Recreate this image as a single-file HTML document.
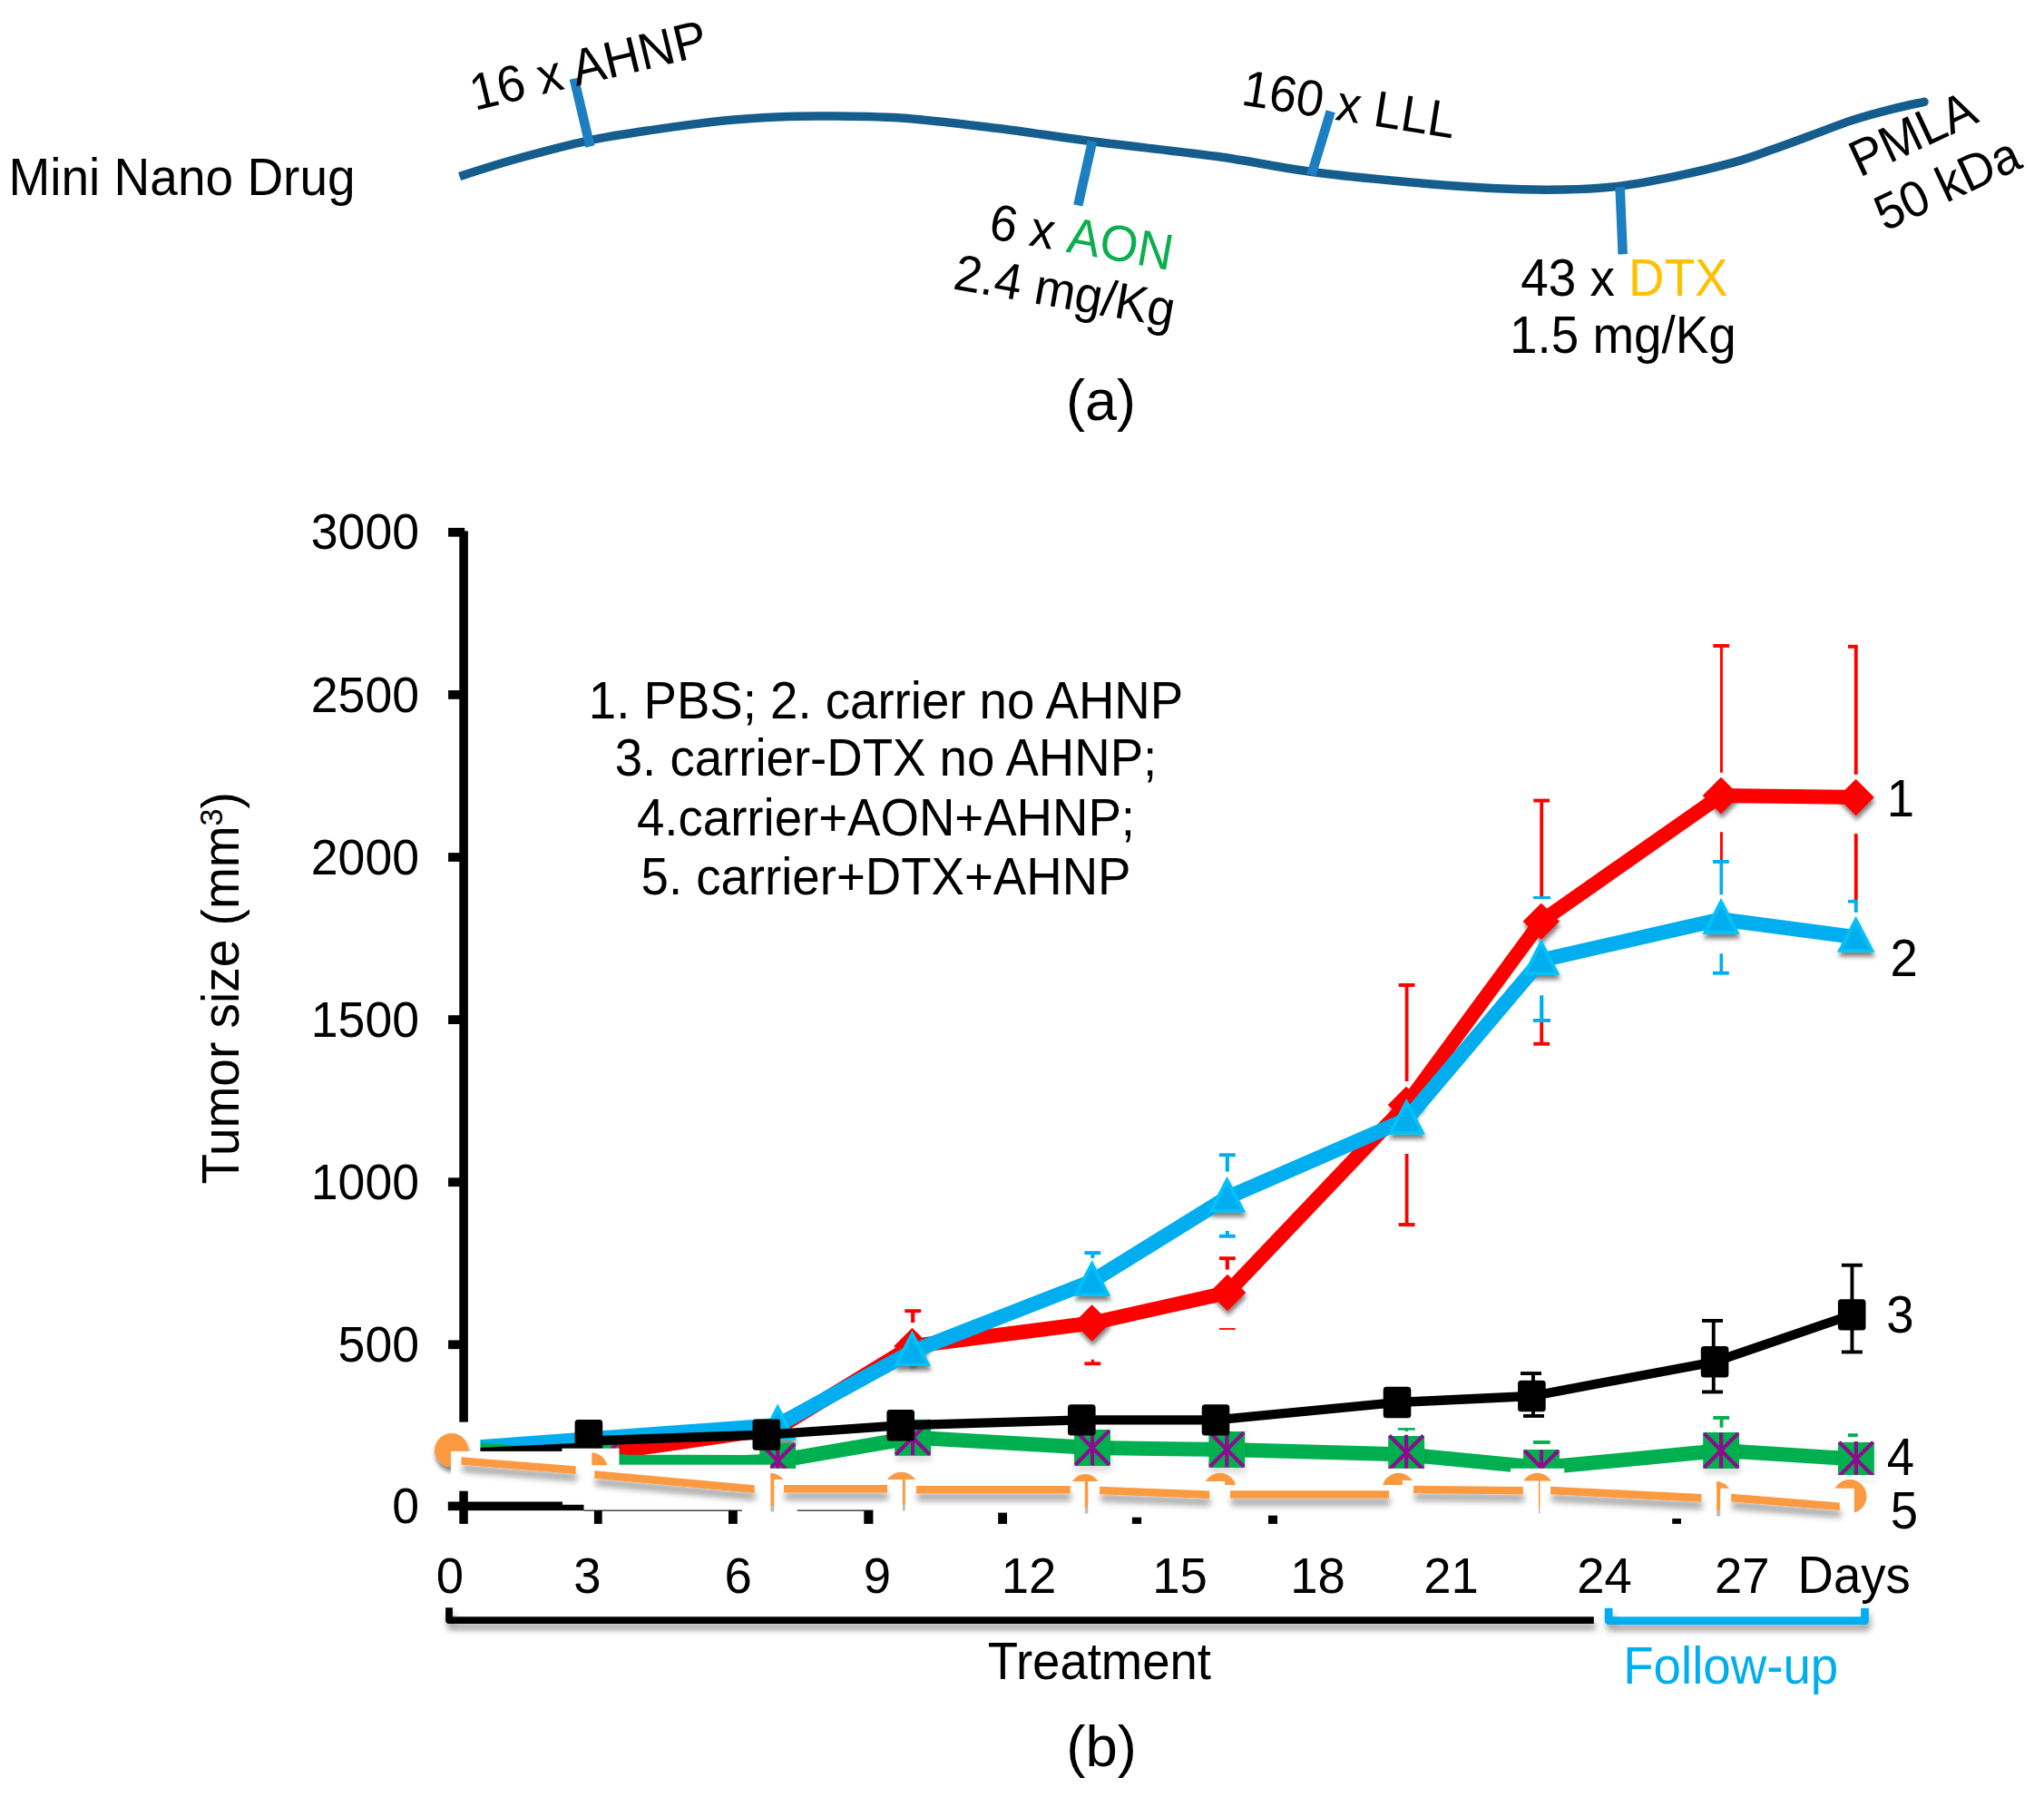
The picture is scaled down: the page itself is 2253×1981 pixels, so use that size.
<!DOCTYPE html>
<html lang="en"><head><meta charset="utf-8"><title>Mini Nano Drug tumor size</title>
<style>html,body{margin:0;padding:0;background:#fff}svg{display:block}text{font-family:"Liberation Sans",sans-serif;fill:#000}</style></head><body>
<svg width="2253" height="1981" viewBox="0 0 2253 1981">
<defs>
<filter id="sh" x="-5%" y="-5%" width="110%" height="115%"><feGaussianBlur in="SourceAlpha" stdDeviation="2.5"/><feOffset dx="0.5" dy="5"/><feComponentTransfer><feFuncA type="linear" slope="0.5"/></feComponentTransfer><feMerge><feMergeNode/><feMergeNode in="SourceGraphic"/></feMerge></filter>
<filter id="shg" x="-5%" y="-5%" width="110%" height="115%"><feGaussianBlur in="SourceAlpha" stdDeviation="3"/><feOffset dx="0.5" dy="6"/><feComponentTransfer><feFuncA type="linear" slope="0.13"/></feComponentTransfer><feMerge><feMergeNode/><feMergeNode in="SourceGraphic"/></feMerge></filter>
<filter id="shc" x="-50%" y="-50%" width="200%" height="200%"><feGaussianBlur in="SourceAlpha" stdDeviation="2.5"/><feOffset dx="0.5" dy="5"/><feComponentTransfer><feFuncA type="linear" slope="0.5"/></feComponentTransfer><feMerge><feMergeNode/><feMergeNode in="SourceGraphic"/></feMerge></filter>
<filter id="sho" x="-5%" y="-50%" width="110%" height="300%"><feGaussianBlur in="SourceAlpha" stdDeviation="3.5"/><feOffset dx="1" dy="8"/><feComponentTransfer><feFuncA type="linear" slope="0.36"/></feComponentTransfer><feMerge><feMergeNode/><feMergeNode in="SourceGraphic"/></feMerge></filter>
<filter id="sh2" x="-5%" y="-100%" width="110%" height="400%"><feGaussianBlur in="SourceAlpha" stdDeviation="3.6"/><feOffset dx="1.5" dy="6.5"/><feComponentTransfer><feFuncA type="linear" slope="0.36"/></feComponentTransfer><feMerge><feMergeNode/><feMergeNode in="SourceGraphic"/></feMerge></filter>
</defs>
<rect width="2253" height="1981" fill="#fff"/>
<g id="panelA">
<path d="M506.6 194.5C528.8 187.2 549.5 180.6 573.4 174.0C597.2 167.4 625.2 160.0 649.7 154.8C674.2 149.7 695.2 146.8 720.2 143.1C745.2 139.4 777.4 135.2 800.0 132.8C822.6 130.5 837.3 129.8 856.0 129.0C874.7 128.2 888.0 127.7 912.0 128.0C936.0 128.3 968.7 128.3 1000.0 130.6C1031.3 132.8 1065.8 137.3 1100.0 141.5C1134.2 145.7 1165.0 150.9 1205.0 156.0C1245.0 161.1 1299.8 166.7 1340.0 172.3C1380.2 177.9 1411.0 184.8 1446.0 189.5C1481.0 194.2 1516.0 197.4 1550.0 200.5C1584.0 203.6 1621.2 206.4 1650.0 207.8C1678.8 209.2 1700.1 209.4 1722.6 209.0C1745.1 208.6 1764.3 207.6 1785.2 205.1C1806.1 202.6 1827.0 198.4 1847.9 194.1C1868.8 189.8 1893.0 184.0 1910.5 179.2C1928.0 174.4 1938.6 170.1 1953.0 165.1C1967.4 160.1 1982.3 154.4 1997.0 149.0C2011.7 143.6 2026.3 137.6 2041.0 132.8C2055.7 128.0 2071.7 123.8 2085.0 120.4C2098.3 117.0 2108.5 115.0 2121.0 112.3" fill="none" stroke="#155D8C" stroke-width="9.5"/>
<circle cx="2121" cy="112.3" r="4.75" fill="#155D8C"/>
<line x1="632.8" y1="86.6" x2="650.4" y2="161.5" stroke="#1C7FC1" stroke-width="10.5"/>
<line x1="1204" y1="155.8" x2="1188.3" y2="226.3" stroke="#1C7FC1" stroke-width="10.5"/>
<line x1="1466.7" y1="122.7" x2="1445.4" y2="193.1" stroke="#1C7FC1" stroke-width="10.5"/>
<line x1="1785.6" y1="206" x2="1788.7" y2="280.2" stroke="#1C7FC1" stroke-width="10.5"/>
<text transform="translate(9.5,214.5) scale(1,1.04)" font-size="55">Mini Nano Drug</text>
<text transform="translate(523.3,122) rotate(-13.5) scale(1,1.04)" font-size="54.5">16 x AHNP</text>
<text transform="translate(1088.5,262.5) rotate(10) scale(1,1.04)" font-size="54">6 x <tspan style="fill:#0DAE4E">AON</tspan></text>
<text transform="translate(1049.2,318.3) rotate(10) scale(1,1.04)" font-size="54">2.4 mg/Kg</text>
<text transform="translate(1367,115.3) rotate(9) scale(1,1.04)" font-size="54">160 x LLL</text>
<text transform="translate(1676.3,325.6) scale(1,1.04)" font-size="54.8">43 x <tspan style="fill:#FFC000">DTX</tspan></text>
<text transform="translate(1664,389) scale(1,1.04)" font-size="54.8">1.5 mg/Kg</text>
<text transform="translate(2049.7,195.8) rotate(-25) scale(1,1.04)" font-size="54">PMLA</text>
<text transform="translate(2077.5,255.5) rotate(-25) scale(1,1.04)" font-size="53.5">50 kDa</text>
<text x="1175" y="463" font-size="63">(a)</text>
</g>
<g id="panelB">
<rect x="506.3" y="585.4" width="9.6" height="982.4" fill="#000" />
<rect x="494.1" y="581.9" width="18.1" height="9.8" fill="#000" />
<text transform="translate(462,605.4) scale(1,1.05)" font-size="53.6" text-anchor="end">3000</text>
<rect x="494.1" y="761.0" width="12.9" height="9.8" fill="#000" />
<text transform="translate(462,784.5) scale(1,1.05)" font-size="53.6" text-anchor="end">2500</text>
<rect x="494.1" y="940.1" width="12.9" height="9.8" fill="#000" />
<text transform="translate(462,963.6) scale(1,1.05)" font-size="53.6" text-anchor="end">2000</text>
<rect x="494.1" y="1119.2" width="12.9" height="9.8" fill="#000" />
<text transform="translate(462,1142.7) scale(1,1.05)" font-size="53.6" text-anchor="end">1500</text>
<rect x="494.1" y="1298.3" width="12.9" height="9.8" fill="#000" />
<text transform="translate(462,1321.8) scale(1,1.05)" font-size="53.6" text-anchor="end">1000</text>
<rect x="494.1" y="1477.4" width="12.9" height="9.8" fill="#000" />
<text transform="translate(462,1500.9) scale(1,1.05)" font-size="53.6" text-anchor="end">500</text>
<text transform="translate(462,1679.4) scale(1,1.05)" font-size="53.6" text-anchor="end">0</text>
<text transform="translate(263.2,1305.6) rotate(-90) scale(1,1.04)" font-size="55">Tumor size (mm<tspan font-size="34" dy="-17.5">3</tspan><tspan dy="17.5">)</tspan></text>
<text transform="translate(976.5,792.2) scale(1,1.04)" font-size="54.6" text-anchor="middle">1. PBS; 2. carrier no AHNP</text>
<text transform="translate(976.5,854.6) scale(1,1.04)" font-size="54.6" text-anchor="middle">3. carrier-DTX no AHNP;</text>
<text transform="translate(976.5,920.8) scale(1,1.04)" font-size="54.6" text-anchor="middle">4.carrier+AON+AHNP;</text>
<text transform="translate(976.5,986) scale(1,1.04)" font-size="54.6" text-anchor="middle">5. carrier+DTX+AHNP</text>
<text transform="translate(495.8,1756.3) scale(1,1.025)" font-size="54.5" text-anchor="middle">0</text>
<text transform="translate(647.4,1756.3) scale(1,1.025)" font-size="54.5" text-anchor="middle">3</text>
<text transform="translate(813.7,1756.3) scale(1,1.025)" font-size="54.5" text-anchor="middle">6</text>
<text transform="translate(966.8,1756.3) scale(1,1.025)" font-size="54.5" text-anchor="middle">9</text>
<text transform="translate(1134,1756.3) scale(1,1.025)" font-size="54.5" text-anchor="middle">12</text>
<text transform="translate(1300.5,1756.3) scale(1,1.025)" font-size="54.5" text-anchor="middle">15</text>
<text transform="translate(1452.5,1756.3) scale(1,1.025)" font-size="54.5" text-anchor="middle">18</text>
<text transform="translate(1599.6,1756.3) scale(1,1.025)" font-size="54.5" text-anchor="middle">21</text>
<text transform="translate(1768.5,1756.3) scale(1,1.025)" font-size="54.5" text-anchor="middle">24</text>
<text transform="translate(1920.3,1756.3) scale(1,1.025)" font-size="54.5" text-anchor="middle">27</text>
<text transform="translate(1981.6,1756) scale(1,1.04)" font-size="54.5">Days</text>
<rect x="997.3" y="1443.2" width="17.8" height="3.9" fill="#FF0000" />
<rect x="1004.1" y="1445.0" width="4.2" height="13.0" fill="#FF0000" />
<rect x="1195.4" y="1501.3" width="17.8" height="3.9" fill="#FF0000" />
<rect x="1202.8" y="1498.6" width="3.0" height="4.4" fill="#FF0000" />
<rect x="1343.9" y="1385.2" width="17.8" height="3.9" fill="#FF0000" />
<rect x="1350.7" y="1387.0" width="4.2" height="12.6" fill="#FF0000" />
<rect x="1343.9" y="1464.1" width="17.8" height="1.8" fill="#FF0000" />
<rect x="1541.7" y="1084.0" width="17.8" height="3.9" fill="#FF0000" />
<rect x="1548.7" y="1086.0" width="3.8" height="106.0" fill="#FF0000" />
<rect x="1548.7" y="1272.0" width="3.8" height="78.0" fill="#FF0000" />
<rect x="1541.7" y="1348.1" width="17.8" height="3.9" fill="#FF0000" />
<rect x="1690.3" y="880.6" width="17.8" height="3.9" fill="#FF0000" />
<rect x="1697.3" y="882.6" width="3.8" height="105.4" fill="#FF0000" />
<rect x="1697.3" y="1127.0" width="3.8" height="23.0" fill="#FF0000" />
<rect x="1690.3" y="1148.8" width="17.8" height="3.9" fill="#FF0000" />
<rect x="1888.3" y="710.0" width="17.8" height="3.9" fill="#FF0000" />
<rect x="1896.0" y="712.0" width="2.9" height="139.8" fill="#FF0000" />
<rect x="1896.0" y="917.2" width="2.9" height="31.3" fill="#FF0000" />
<rect x="2037.0" y="710.8" width="10.7" height="3.9" fill="#FF0000" />
<rect x="2043.8" y="712.8" width="3.9" height="141.0" fill="#FF0000" />
<rect x="2043.8" y="919.1" width="3.9" height="72.9" fill="#FF0000" />
<rect x="1195.4" y="1379.2" width="17.8" height="3.9" fill="#00AEEF" />
<rect x="1202.3" y="1381.0" width="4.0" height="6.0" fill="#00AEEF" />
<rect x="1343.9" y="1271.3" width="17.8" height="3.9" fill="#00AEEF" />
<rect x="1350.7" y="1273.0" width="4.2" height="18.6" fill="#00AEEF" />
<rect x="1343.9" y="1360.8" width="17.8" height="3.9" fill="#00AEEF" />
<rect x="1350.7" y="1357.0" width="4.2" height="5.0" fill="#00AEEF" />
<rect x="1690.0" y="988.0" width="19.0" height="3.0" fill="#00AEEF" />
<rect x="1697.1" y="1097.3" width="4.2" height="27.7" fill="#00AEEF" />
<rect x="1690.0" y="1123.0" width="19.0" height="3.9" fill="#00AEEF" />
<rect x="1888.0" y="948.0" width="17.8" height="3.9" fill="#00AEEF" />
<rect x="1895.5" y="950.0" width="3.5" height="36.3" fill="#00AEEF" />
<rect x="1895.5" y="1051.2" width="3.5" height="20.8" fill="#00AEEF" />
<rect x="1888.0" y="1070.8" width="17.8" height="3.9" fill="#00AEEF" />
<rect x="2037.0" y="991.9" width="10.7" height="3.6" fill="#00AEEF" />
<rect x="2043.8" y="993.0" width="3.9" height="12.8" fill="#00AEEF" />
<rect x="1540.8" y="1574.1" width="19.0" height="2.6" fill="#00B050" />
<rect x="1548.8" y="1575.5" width="3.0" height="2.5" fill="#00B050" />
<rect x="1690.0" y="1588.0" width="18.7" height="3.9" fill="#00B050" />
<rect x="1888.3" y="1561.0" width="17.8" height="3.9" fill="#00B050" />
<rect x="1895.6" y="1563.0" width="3.8" height="10.7" fill="#00B050" />
<rect x="2037.0" y="1580.2" width="10.7" height="3.9" fill="#00B050" />
<g filter="url(#sh)"><path d="M1005.5 1464L1025.5 1484L1005.5 1504L985.5 1484Z" fill="#FF0000"/><path d="M1203.6 1438.5L1223.6 1458.5L1203.6 1478.5L1183.6 1458.5Z" fill="#FF0000"/><path d="M1353 1405L1373 1425L1353 1445L1333 1425Z" fill="#FF0000"/><path d="M1550 1198L1570 1218L1550 1238L1530 1218Z" fill="#FF0000"/><path d="M1698.8 995.7L1718.8 1015.7L1698.8 1035.7L1678.8 1015.7Z" fill="#FF0000"/><path d="M1897 857L1917 877L1897 897L1877 877Z" fill="#FF0000"/><path d="M2045.6 858.9L2065.6 878.9L2045.6 898.9L2025.6 878.9Z" fill="#FF0000"/></g>
<polyline points="511.0,1624.5 857.2,1574.4 1005.5,1484.0 1203.6,1458.5 1353.0,1425.0 1550.0,1218.0 1698.8,1015.7 1897.0,877.0 2045.6,878.9" fill="none" stroke="#FF0000" stroke-width="16" stroke-linejoin="miter" />
<path d="M1005.5 1464L1025.5 1484L1005.5 1504L985.5 1484Z" fill="#FF0000"/><path d="M1203.6 1438.5L1223.6 1458.5L1203.6 1478.5L1183.6 1458.5Z" fill="#FF0000"/><path d="M1353 1405L1373 1425L1353 1445L1333 1425Z" fill="#FF0000"/><path d="M1550 1198L1570 1218L1550 1238L1530 1218Z" fill="#FF0000"/><path d="M1698.8 995.7L1718.8 1015.7L1698.8 1035.7L1678.8 1015.7Z" fill="#FF0000"/><path d="M1897 857L1917 877L1897 897L1877 877Z" fill="#FF0000"/><path d="M2045.6 858.9L2065.6 878.9L2045.6 898.9L2025.6 878.9Z" fill="#FF0000"/>
<g filter="url(#sh)"><path d="M857.2 1551.5L874.8 1585.6L839.6 1585.6Z" fill="#00AEEF" stroke="#00C3F7" stroke-width="3.4" stroke-linejoin="miter"/><path d="M1005.5 1470.3L1023.1 1504.4L987.9 1504.4Z" fill="#00AEEF" stroke="#00C3F7" stroke-width="3.4" stroke-linejoin="miter"/><path d="M1203.6 1393.0L1221.2 1427.1L1186.0 1427.1Z" fill="#00AEEF" stroke="#00C3F7" stroke-width="3.4" stroke-linejoin="miter"/><path d="M1352.5 1300.8L1370.1 1334.9L1334.9 1334.9Z" fill="#00AEEF" stroke="#00C3F7" stroke-width="3.4" stroke-linejoin="miter"/><path d="M1550.3 1214.7L1567.9 1248.8L1532.7 1248.8Z" fill="#00AEEF" stroke="#00C3F7" stroke-width="3.4" stroke-linejoin="miter"/><path d="M1698.8 1039.0L1716.4 1073.1L1681.2 1073.1Z" fill="#00AEEF" stroke="#00C3F7" stroke-width="3.4" stroke-linejoin="miter"/><path d="M1897.0 993.9L1914.6 1028.0L1879.4 1028.0Z" fill="#00AEEF" stroke="#00C3F7" stroke-width="3.4" stroke-linejoin="miter"/><path d="M2045.6 1013.7L2063.2 1047.8L2028.0 1047.8Z" fill="#00AEEF" stroke="#00C3F7" stroke-width="3.4" stroke-linejoin="miter"/></g>
<polyline points="511.0,1596.6 857.2,1571.0 1005.5,1489.8 1203.6,1412.5 1352.5,1320.3 1550.3,1234.2 1698.8,1058.5 1897.0,1013.4 2045.6,1033.2" fill="none" stroke="#00AEEF" stroke-width="16.2" stroke-linejoin="miter" />
<path d="M857.2 1551.5L874.8 1585.6L839.6 1585.6Z" fill="#00AEEF" stroke="#00C3F7" stroke-width="3.4" stroke-linejoin="miter"/><path d="M1005.5 1470.3L1023.1 1504.4L987.9 1504.4Z" fill="#00AEEF" stroke="#00C3F7" stroke-width="3.4" stroke-linejoin="miter"/><path d="M1203.6 1393.0L1221.2 1427.1L1186.0 1427.1Z" fill="#00AEEF" stroke="#00C3F7" stroke-width="3.4" stroke-linejoin="miter"/><path d="M1352.5 1300.8L1370.1 1334.9L1334.9 1334.9Z" fill="#00AEEF" stroke="#00C3F7" stroke-width="3.4" stroke-linejoin="miter"/><path d="M1550.3 1214.7L1567.9 1248.8L1532.7 1248.8Z" fill="#00AEEF" stroke="#00C3F7" stroke-width="3.4" stroke-linejoin="miter"/><path d="M1698.8 1039.0L1716.4 1073.1L1681.2 1073.1Z" fill="#00AEEF" stroke="#00C3F7" stroke-width="3.4" stroke-linejoin="miter"/><path d="M1897.0 993.9L1914.6 1028.0L1879.4 1028.0Z" fill="#00AEEF" stroke="#00C3F7" stroke-width="3.4" stroke-linejoin="miter"/><path d="M2045.6 1013.7L2063.2 1047.8L2028.0 1047.8Z" fill="#00AEEF" stroke="#00C3F7" stroke-width="3.4" stroke-linejoin="miter"/>
<polyline points="511.0,1596.7 690.0,1611.4 820.0,1612.0 857.2,1610.5 1006.1,1584.8 1204.0,1596.0 1352.3,1598.0 1550.1,1603.5 1699.0,1618.0 1897.1,1599.0 2045.9,1608.5" fill="none" stroke="#00B050" stroke-width="16" stroke-linejoin="miter" />
<g filter="url(#shg)">
<rect x="642.1" y="1590.0" width="39.8" height="40.0" fill="#00B050" />
<rect x="837.3" y="1590.5" width="39.8" height="40.0" fill="#00B050" />
<rect x="986.2" y="1564.8" width="39.8" height="40.0" fill="#00B050" />
<rect x="1184.1" y="1576.0" width="39.8" height="40.0" fill="#00B050" />
<rect x="1332.4" y="1578.0" width="39.8" height="40.0" fill="#00B050" />
<rect x="1530.2" y="1583.0" width="39.8" height="38.2" fill="#00B050" />
<rect x="1679.1" y="1598.0" width="39.8" height="40.0" fill="#00B050" />
<rect x="1877.2" y="1579.0" width="39.8" height="40.0" fill="#00B050" />
<rect x="2026.0" y="1589.9" width="39.8" height="36.2" fill="#00B050" />
</g>
<path d="M643.3 1591.3L680.7 1628.7M680.7 1591.3L643.3 1628.7M662.0 1590.5V1629.5" stroke="#8D0C8D" stroke-width="4.2" fill="none"/>
<path d="M838.5 1591.8L875.9 1629.2M875.9 1591.8L838.5 1629.2M857.2 1591.0V1630.0" stroke="#8D0C8D" stroke-width="4.2" fill="none"/>
<path d="M987.4 1566.1L1024.8 1603.5M1024.8 1566.1L987.4 1603.5M1006.1 1565.3V1604.3" stroke="#8D0C8D" stroke-width="4.2" fill="none"/>
<path d="M1185.3 1577.3L1222.7 1614.7M1222.7 1577.3L1185.3 1614.7M1204.0 1576.5V1615.5" stroke="#8D0C8D" stroke-width="4.2" fill="none"/>
<path d="M1333.6 1579.3L1371.0 1616.7M1371.0 1579.3L1333.6 1616.7M1352.3 1578.5V1617.5" stroke="#8D0C8D" stroke-width="4.2" fill="none"/>
<path d="M1531.4 1582.5L1568.8 1619.9M1568.8 1582.5L1531.4 1619.9M1550.1 1581.7V1620.7" stroke="#8D0C8D" stroke-width="4.2" fill="none"/>
<path d="M1680.3 1599.3L1717.7 1636.7M1717.7 1599.3L1680.3 1636.7M1699.0 1598.5V1637.5" stroke="#8D0C8D" stroke-width="4.2" fill="none"/>
<path d="M1878.4 1580.3L1915.8 1617.7M1915.8 1580.3L1878.4 1617.7M1897.1 1579.5V1618.5" stroke="#8D0C8D" stroke-width="4.2" fill="none"/>
<path d="M2027.2 1589.8L2064.6 1627.2M2064.6 1589.8L2027.2 1627.2M2045.9 1589.0V1628.0" stroke="#8D0C8D" stroke-width="4.2" fill="none"/>
<rect x="1676.0" y="1512.1" width="23.0" height="3.9" fill="#000" />
<rect x="1679.0" y="1559.0" width="23.0" height="3.9" fill="#000" />
<rect x="1688.0" y="1514.1" width="3.9" height="46.9" fill="#000" />
<rect x="1876.0" y="1454.0" width="23.0" height="3.9" fill="#000" />
<rect x="1876.0" y="1532.5" width="23.0" height="3.9" fill="#000" />
<rect x="1886.8" y="1456.0" width="3.9" height="78.5" fill="#000" />
<rect x="2029.9" y="1392.8" width="23.0" height="3.9" fill="#000" />
<rect x="2029.9" y="1488.5" width="23.0" height="3.9" fill="#000" />
<rect x="2039.5" y="1394.8" width="3.9" height="95.7" fill="#000" />
<polyline points="511.0,1601.9 650.0,1595.3" fill="none" stroke="#000" stroke-width="10.3" stroke-linejoin="miter" />
<polyline points="648.9,1588.5 844.8,1581.6 992.7,1571.3 1192.3,1565.4 1340.0,1565.4 1540.0,1546.0 1688.4,1539.0 1890.1,1501.2 2041.2,1449.4" fill="none" stroke="#000" stroke-width="10.3" stroke-linejoin="miter" />
<rect x="633.6" y="1565.1" width="30.6" height="34.4" rx="3.5" fill="#000"/>
<rect x="829.5" y="1564.4" width="30.6" height="34.4" rx="3.5" fill="#000"/>
<rect x="977.4" y="1554.1" width="30.6" height="34.4" rx="3.5" fill="#000"/>
<rect x="1177.0" y="1548.2" width="30.6" height="34.4" rx="3.5" fill="#000"/>
<rect x="1324.7" y="1548.2" width="30.6" height="34.4" rx="3.5" fill="#000"/>
<rect x="1524.7" y="1528.8" width="30.6" height="34.4" rx="3.5" fill="#000"/>
<rect x="1673.1" y="1521.8" width="30.6" height="34.4" rx="3.5" fill="#000"/>
<rect x="1874.8" y="1484.0" width="30.6" height="34.4" rx="3.5" fill="#000"/>
<rect x="2025.9" y="1432.2" width="30.6" height="34.4" rx="3.5" fill="#000"/>
<rect x="498.7" y="1567.8" width="30.7" height="33.2" fill="#fff" />
<g filter="url(#shc)"><circle cx="497.7" cy="1598.7" r="18.6" fill="#FB9A40"/></g>
<rect x="497.0" y="1599.9" width="123.3" height="56.1" fill="#fff" />
<rect x="619.5" y="1596.7" width="63.0" height="69.3" fill="#fff" />
<rect x="682.0" y="1614.7" width="167.0" height="51.3" fill="#fff" />
<rect x="849.0" y="1618.9" width="33.0" height="47.1" fill="#fff" />
<rect x="1665.0" y="1618.8" width="59.2" height="33.2" fill="#fff" />
<rect x="1528.0" y="1618.9" width="44.0" height="11.1" fill="#fff" />
<rect x="2024.0" y="1626.1" width="44.0" height="5.9" fill="#fff" />
<rect x="506.3" y="1643.7" width="9.5" height="36.2" fill="#000" />
<rect x="493.8" y="1655.5" width="126.2" height="9.7" fill="#000" />
<rect x="620.0" y="1658.8" width="23.5" height="6.4" fill="#000" />
<rect x="643.5" y="1664.6" width="174.5" height="1.1" fill="#000" />
<rect x="878.7" y="1664.6" width="83.7" height="1.1" fill="#000" />
<rect x="654.9" y="1665.2" width="8.8" height="14.7" fill="#000" />
<rect x="803.0" y="1665.2" width="9.8" height="14.7" fill="#000" />
<rect x="952.3" y="1665.2" width="10.1" height="14.7" fill="#000" />
<rect x="1100.2" y="1667.6" width="9.8" height="12.3" fill="#000" />
<rect x="1247.9" y="1672.7" width="10.2" height="7.2" fill="#000" />
<rect x="1398.0" y="1670.7" width="10.0" height="9.2" fill="#000" />
<rect x="1843.2" y="1674.1" width="9.8" height="5.8" fill="#000" />
<g filter="url(#sho)">
<path d="M508.5 1606.2L634.7 1616.3L634.7 1624.9L508.5 1614.8Z" fill="#FB9A40"/>
<path d="M655.3 1621.2L831.7 1637.3L831.7 1645.9L655.3 1629.8Z" fill="#FB9A40"/>
<path d="M864.0 1637.0L978.0 1637.0L978.0 1645.6L864.0 1645.6Z" fill="#FB9A40"/>
<path d="M1010.0 1638.0L1179.7 1638.0L1179.7 1646.6L1010.0 1646.6Z" fill="#FB9A40"/>
<path d="M1212.1 1638.7L1333.1 1643.5L1333.1 1652.1L1212.1 1647.3Z" fill="#FB9A40"/>
<path d="M1356.0 1643.2L1531.1 1643.2L1531.1 1651.8L1356.0 1651.8Z" fill="#FB9A40"/>
<path d="M1558.1 1637.7L1678.8 1638.9L1678.8 1647.5L1558.1 1646.3Z" fill="#FB9A40"/>
<path d="M1709.1 1638.7L1875.5 1647.1L1875.5 1655.7L1709.1 1647.3Z" fill="#FB9A40"/>
<path d="M1908.2 1646.8L2027.8 1656.5L2027.8 1665.1L1908.2 1655.4Z" fill="#FB9A40"/>
</g>
<clipPath id="c652"><rect x="652.3" y="1590.0" width="27.7" height="25.3"/></clipPath>
<circle cx="652.3" cy="1619.1" r="17.5" fill="#FB9A40" clip-path="url(#c652)"/>
<clipPath id="c849"><rect x="849.4" y="1600.0" width="30.6" height="31.0"/></clipPath>
<circle cx="849.6" cy="1641.6" r="17.5" fill="#FB9A40" clip-path="url(#c849)"/>
<clipPath id="c993"><rect x="960.0" y="1600.0" width="70.0" height="31.0"/></clipPath>
<circle cx="993.5" cy="1641.3" r="18.5" fill="#FB9A40" clip-path="url(#c993)"/>
<clipPath id="c1196"><rect x="1170.0" y="1600.0" width="60.0" height="33.0"/></clipPath>
<circle cx="1196.2" cy="1641.8" r="16.7" fill="#FB9A40" clip-path="url(#c1196)"/>
<clipPath id="c1344"><rect x="1320.0" y="1600.0" width="30.1" height="32.9"/><rect x="1350.1" y="1600.0" width="19.9" height="36.9"/></clipPath>
<circle cx="1344.6" cy="1641.9" r="18.1" fill="#FB9A40" clip-path="url(#c1344)"/>
<clipPath id="c1541"><rect x="1520.0" y="1600.0" width="25.9" height="37.0"/><rect x="1545.9" y="1600.0" width="24.1" height="32.0"/></clipPath>
<circle cx="1541.5" cy="1641.9" r="18.1" fill="#FB9A40" clip-path="url(#c1541)"/>
<clipPath id="c1694"><rect x="1670.0" y="1600.0" width="50.0" height="32.4"/></clipPath>
<circle cx="1694.5" cy="1641.5" r="17.7" fill="#FB9A40" clip-path="url(#c1694)"/>
<clipPath id="c1892"><rect x="1892.1" y="1620.0" width="27.9" height="20.8"/></clipPath>
<circle cx="1892" cy="1651" r="17.5" fill="#FB9A40" clip-path="url(#c1892)"/>
<clipPath id="c2038"><rect x="2010.0" y="1620.0" width="60.0" height="20.8"/><rect x="2043.8" y="1620.0" width="26.2" height="60.0"/></clipPath>
<circle cx="2038.9" cy="1649.6" r="18.6" fill="#FB9A40" clip-path="url(#c2038)"/>
<rect x="849.4" y="1624.5" width="3.9" height="35.5" fill="#FB9A40" />
<rect x="849.4" y="1660.0" width="3.9" height="6.5" fill="#BDBDBD"/>
<rect x="994.9" y="1630.0" width="2.9" height="29.0" fill="#FB9A40" />
<rect x="994.9" y="1659.0" width="2.9" height="6.5" fill="#BDBDBD"/>
<rect x="1195.7" y="1632.0" width="3.6" height="30.0" fill="#FB9A40" />
<rect x="1195.7" y="1662.0" width="3.6" height="6.5" fill="#BDBDBD"/>
<rect x="1695.9" y="1631.0" width="1.6" height="31.0" fill="#FB9A40" />
<rect x="1695.9" y="1662.0" width="1.6" height="6.5" fill="#BDBDBD"/>
<rect x="1892.1" y="1633.5" width="4.1" height="31.5" fill="#FB9A40" />
<rect x="1892.1" y="1665.0" width="4.1" height="6.5" fill="#BDBDBD"/>
<text transform="translate(2079.8,900) scale(1,1.05)" font-size="54.5">1</text>
<text transform="translate(2083.6,1076.3) scale(1,1.05)" font-size="54.5">2</text>
<text transform="translate(2079.3,1468.7) scale(1,1.05)" font-size="54.5">3</text>
<text transform="translate(2079.7,1625.9) scale(1,1.05)" font-size="54.5">4</text>
<text transform="translate(2083.7,1685.3) scale(1,1.05)" font-size="54.5">5</text>
<g filter="url(#sh2)"><path d="M495 1772.3V1786.05H1756.8" fill="none" stroke="#000" stroke-width="7.8" stroke-linejoin="round"/></g>
<g filter="url(#sh2)"><path d="M1773.1 1772.8V1786.7H2055.5V1772.8" fill="none" stroke="#00AEEF" stroke-width="8.7" stroke-linejoin="round"/></g>
<text transform="translate(1088.7,1850.9) scale(1,1.04)" font-size="54.5">Treatment</text>
<text transform="translate(1789.2,1855.9) scale(1,1.04)" font-size="54.7" style="fill:#00AEEF">Follow-up</text>
<text x="1175.3" y="1946.6" font-size="63.5">(b)</text>
</g>
</svg></body></html>
